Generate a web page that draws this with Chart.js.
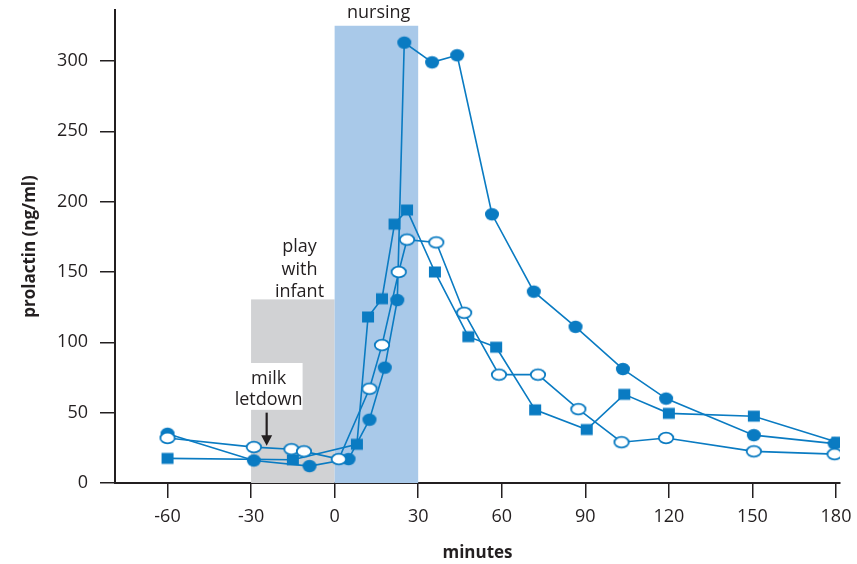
<!DOCTYPE html>
<html>
<head>
<meta charset="utf-8">
<script src="https://cdn.jsdelivr.net/npm/chart.js@4.4.1/dist/chart.umd.min.js"></script>
<style>
  html, body { margin: 0; padding: 0; background: #fff; }
  #wrap { width: 857px; height: 564px; }
</style>
</head>
<body>
<div id="wrap"><canvas id="mycanvas" width="857" height="564"></canvas></div>
<script>
// minutes / prolactin (ng/ml)
var filledX = [-60, -29, -9, 5, 12.5, 18, 22.5, 25, 35, 44, 56.5, 71.5, 86.5, 103.5, 119, 150.5, 179.5];
var filledY = [35, 16, 12, 17, 45, 82, 130, 313, 299, 304, 191, 136, 111, 81, 60, 34, 28];

var squareX = [-60, -15, 8, 12, 17, 21.5, 26, 36, 48, 58, 72, 90.5, 104, 120, 150.5, 180.5];
var squareY = [17.5, 16.5, 27.5, 118, 131, 184, 194, 150, 104, 96.5, 52, 38, 63, 49.5, 47.5, 29];

var openX = [-60, -29, -15.5, -11, 1.5, 12.5, 17, 23, 26, 36.5, 46.5, 59, 73, 87.5, 103, 119, 150.5, 179.5];
var openY = [32, 25.5, 24, 22.5, 17, 67, 98, 150, 173, 171, 121, 77, 77, 52.5, 29, 32, 22.5, 20.5];

var xTicks = [-60, -30, 0, 30, 60, 90, 120, 150, 180];
var yTicks = [0, 50, 100, 150, 200, 250, 300];

var blue = '#0a7bc2';
var ink = '#231f20';
var font = '"Open Sans", sans-serif';

function pts(xs, ys) {
  var out = [];
  for (var i = 0; i < xs.length; i++) out.push({x: xs[i], y: ys[i]});
  return out;
}

// marker images
function marker(kind) {
  var c = document.createElement('canvas');
  c.width = 18; c.height = 16;
  var g = c.getContext('2d');
  if (kind == 'filled') {
    g.fillStyle = blue;
    g.beginPath(); g.ellipse(9, 8, 7, 6.2, 0, 0, Math.PI * 2); g.fill();
  } else if (kind == 'open') {
    g.fillStyle = '#fff'; g.strokeStyle = blue; g.lineWidth = 1.8;
    g.beginPath(); g.ellipse(9, 8, 7.2, 5.4, 0, 0, Math.PI * 2); g.fill(); g.stroke();
  } else {
    g.fillStyle = blue;
    g.fillRect(3, 2.5, 12, 11);
  }
  return c;
}

var shading = {
  id: 'shading',
  beforeDatasetsDraw: function(chart) {
    var ctx = chart.ctx, sx = chart.scales.x, sy = chart.scales.y;
    function X(v) { return sx.getPixelForValue(v); }
    function Y(v) { return sy.getPixelForValue(v); }
    ctx.save();
    // play with infant
    ctx.fillStyle = '#d1d2d4';
    ctx.fillRect(X(-30), Y(130.5), X(0) - X(-30), Y(0) - Y(130.5));
    // nursing
    ctx.fillStyle = '#a9c9e9';
    ctx.fillRect(X(0), Y(325), X(30) - X(0), Y(0) - Y(325));
    // box behind milk letdown
    ctx.fillStyle = '#fff';
    ctx.fillRect(X(-38), Y(85.3), X(-11.5) - X(-38), Y(52) - Y(85.3));

    ctx.fillStyle = ink;
    ctx.font = '18px ' + font;
    ctx.textAlign = 'center';
    ctx.textBaseline = 'middle';
    ctx.fillText('nursing', X(15.8), Y(334));
    ctx.fillText('play', X(-12.6), Y(167.5));
    ctx.fillText('with', X(-12.6), Y(151.5));
    ctx.fillText('infant', X(-12.6), Y(135.8));
    ctx.fillText('milk', X(-23.7), Y(74));
    ctx.fillText('letdown', X(-23.7), Y(59));

    // arrow
    var ax = X(-24.4);
    ctx.strokeStyle = ink; ctx.lineWidth = 2.2;
    ctx.beginPath(); ctx.moveTo(ax, Y(50)); ctx.lineTo(ax, Y(33)); ctx.stroke();
    ctx.beginPath();
    ctx.moveTo(ax - 5.5, Y(34)); ctx.lineTo(ax + 5.5, Y(34)); ctx.lineTo(ax, Y(26.5));
    ctx.closePath(); ctx.fill();
    ctx.restore();
  }
};

var lineOpts = {
  showLine: true, fill: false, tension: 0,
  borderColor: blue, backgroundColor: blue, borderWidth: 1.6
};

var ctx = document.getElementById('mycanvas');
var chart = new Chart(ctx, {
  type: 'scatter',
  data: {
    datasets: [
      Object.assign({label: 'open', data: pts(openX, openY), pointStyle: marker('open')}, lineOpts),
      Object.assign({label: 'square', data: pts(squareX, squareY), pointStyle: marker('square')}, lineOpts),
      Object.assign({label: 'filled', data: pts(filledX, filledY), pointStyle: marker('filled')}, lineOpts)
    ]
  },
  plugins: [shading],
  options: {
    responsive: false,
    animation: false,
    layout: { padding: { top: 10, right: 17, left: 0, bottom: 0 } },
    plugins: { legend: { display: false }, tooltip: { enabled: false } },
    scales: {
      x: {
        type: 'linear', min: -78.85, max: 181.44,
        afterBuildTicks: function(s) { s.ticks = xTicks.map(function(v){ return {value: v}; }); },
        afterFit: function(s) { s.height = 81; s.paddingLeft = 0; s.paddingRight = 0; },
        border: { display: true, color: ink, width: 2 },
        grid: { drawOnChartArea: false, drawTicks: true, tickLength: 15, color: ink, lineWidth: 1.5 },
        ticks: { color: ink, font: { family: font, size: 18 }, padding: 8, maxRotation: 0 },
        title: { display: true, text: 'minutes', color: ink, font: { family: font, size: 17, weight: 'bold' }, padding: { top: 0, bottom: 1 } }
      },
      y: {
        type: 'linear', min: 0, max: 336.2,
        afterBuildTicks: function(s) { s.ticks = yTicks.map(function(v){ return {value: v}; }); },
        afterFit: function(s) { s.width = 115; s.paddingTop = 0; s.paddingBottom = 0; },
        border: { display: true, color: ink, width: 2 },
        grid: { drawOnChartArea: false, drawTicks: true, tickLength: 15, color: ink, lineWidth: 1.5 },
        ticks: { color: ink, font: { family: font, size: 18 }, padding: 12 },
        title: { display: true, text: 'prolactin (ng/ml)', color: ink, font: { family: font, size: 17, weight: 'bold' }, padding: { top: 20, bottom: 0 } }
      }
    }
  }
});
</script>
</body>
</html>
